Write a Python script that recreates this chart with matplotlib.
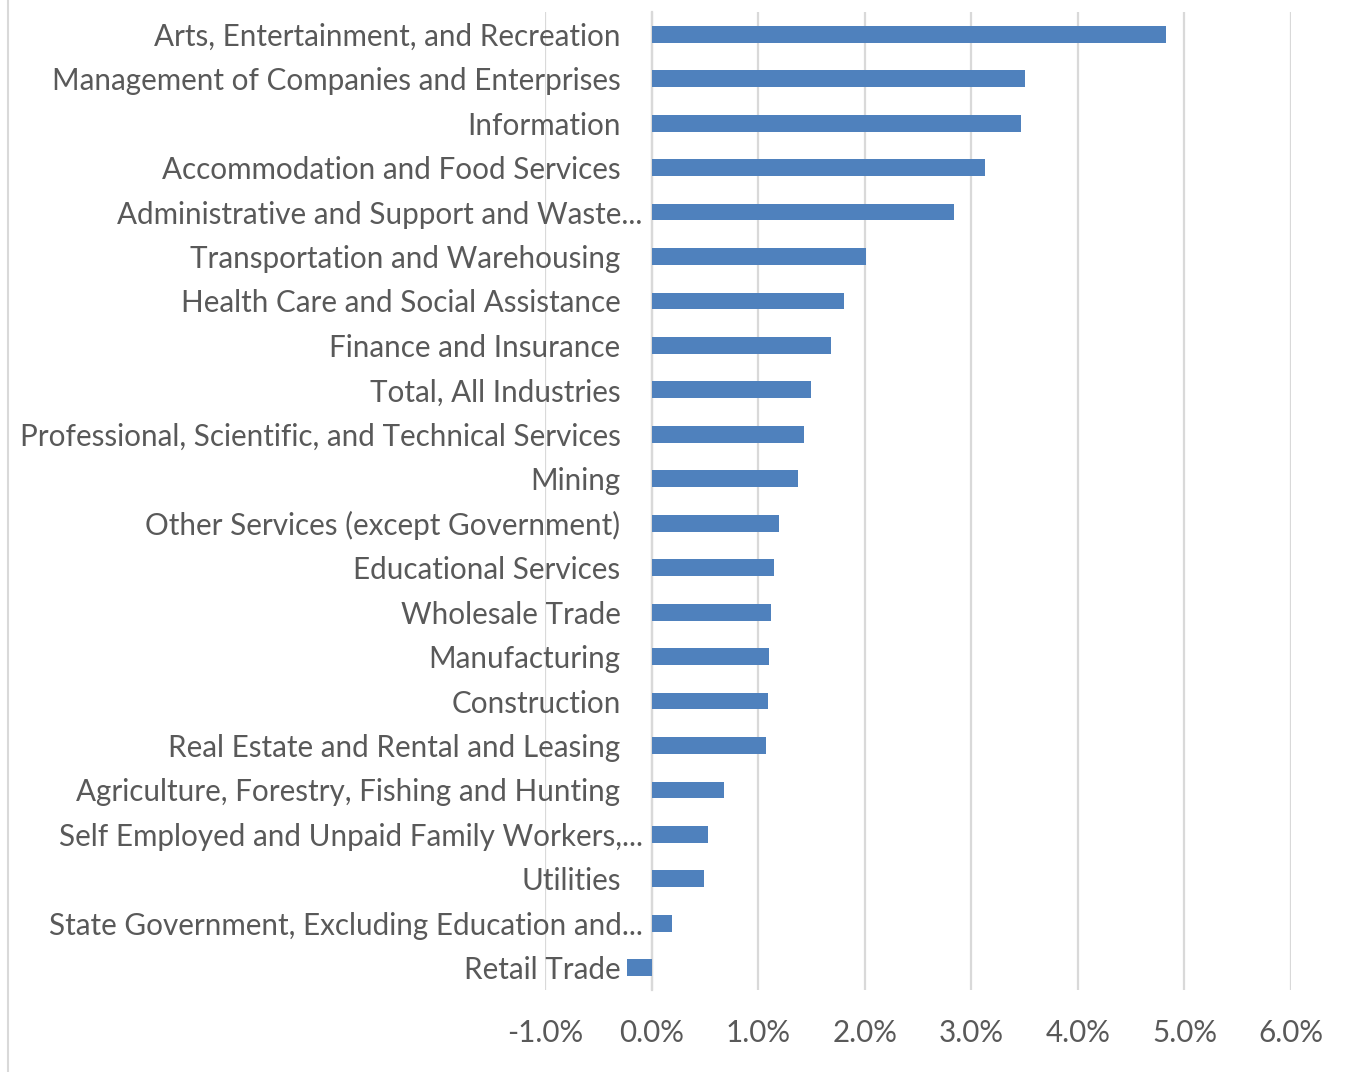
import matplotlib
matplotlib.use("Agg")
import matplotlib.pyplot as plt
from matplotlib.lines import Line2D
from matplotlib.ticker import FuncFormatter

# industries, top to bottom as shown
industries = [
    "Arts, Entertainment, and Recreation",
    "Management of Companies and Enterprises",
    "Information",
    "Accommodation and Food Services",
    "Administrative and Support and Waste...",
    "Transportation and Warehousing",
    "Health Care and Social Assistance",
    "Finance and Insurance",
    "Total, All Industries",
    "Professional, Scientific, and Technical Services",
    "Mining",
    "Other Services (except Government)",
    "Educational Services",
    "Wholesale Trade",
    "Manufacturing",
    "Construction",
    "Real Estate and Rental and Leasing",
    "Agriculture, Forestry, Fishing and Hunting",
    "Self Employed and Unpaid Family Workers,...",
    "Utilities",
    "State Government, Excluding Education and...",
    "Retail Trade",
]
growth_pct = [4.83, 3.50, 3.47, 3.13, 2.84, 2.01, 1.81, 1.68, 1.50, 1.43, 1.37,
              1.20, 1.15, 1.12, 1.10, 1.09, 1.07, 0.68, 0.53, 0.49, 0.19, -0.23]
x_ticks = [-1, 0, 1, 2, 3, 4, 5, 6]

TEXT = "#595959"
GRID = "#d9d9d9"
BAR = "#4F81BD"
plt.rcParams["font.family"] = ["Lato", "DejaVu Sans"]

fig = plt.figure(figsize=(13.54, 10.72), dpi=100)
ax = fig.add_axes([545 / 1354, 82 / 1072, 746 / 1354, 978 / 1072])

ypos = list(range(len(industries)))
ax.barh(ypos, growth_pct, height=0.38, color=BAR, zorder=3)

ax.set_xlim(-1, 6)
ax.set_ylim(len(industries) - 0.5, -0.5)
ax.set_xticks(x_ticks)
ax.xaxis.set_major_formatter(FuncFormatter(lambda v, _: f"{v:.1f}%"))
ax.grid(axis="x", color=GRID, linewidth=1.6, zorder=0)
ax.set_axisbelow(True)

# category axis crosses at 0
ax.spines["left"].set_position(("data", 0))
ax.spines["left"].set_color(GRID)
ax.spines["left"].set_linewidth(1.6)
for s in ["top", "right", "bottom"]:
    ax.spines[s].set_visible(False)

# category labels next to the zero line; truncated ones run closer (like Excel)
ax.set_yticks([])
for i, name in zip(ypos, industries):
    gap = 9 if name.endswith("...") else 31
    ax.annotate(name, xy=(0, i), xytext=(-gap, 0), textcoords="offset pixels",
                ha="right", va="center_baseline", fontsize=21.3, color=TEXT,
                annotation_clip=False)
ax.tick_params(axis="x", length=0, pad=21, labelsize=21.3, labelcolor=TEXT)

# chart-area border on the left edge
fig.add_artist(Line2D([8 / 1354, 8 / 1354], [0, 1], color=GRID, linewidth=1.5))

fig.savefig("out.png", dpi=100)
